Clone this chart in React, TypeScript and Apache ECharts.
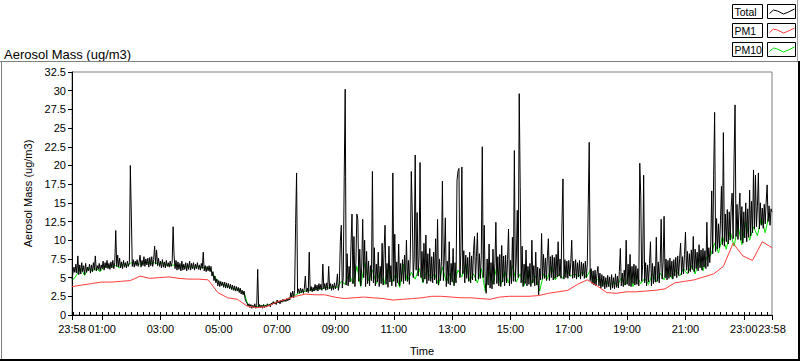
import React, { useEffect, useRef } from "react";
import * as echarts from "echarts";

const FONT = "'Liberation Sans', Arial, sans-serif";

// X axis: minutes elapsed since 23:58 (0 .. 1440)
const TIME_LABELS = ["23:58", "01:00", "03:00", "05:00", "07:00", "09:00", "11:00", "13:00", "15:00", "17:00", "19:00", "21:00", "23:00", "23:58"];
const LABEL_MINUTES = [0, 62, 182, 302, 422, 542, 662, 782, 902, 1022, 1142, 1262, 1382, 1440];
const X_MAX = 1440;
const MINOR_TICK_START = 2;
const MINOR_TICK_STEP = 12;

const Y_MAX = 32.5;
const Y_STEP = 2.5;

// Total: one reading every 2 minutes
const TOTAL_STEP_MIN = 2;
const TOTAL = [
  4.8, 5.6, 6.4, 5.7, 6.8, 5.6, 7.9, 5.4, 6.7, 5.5, 7.0, 5.8, 6.6, 5.4, 6.9, 5.7, 6.4, 5.9, 6.8, 5.6,
  6.7, 5.8, 7.0, 6.0, 7.9, 5.9, 6.6, 6.1, 6.9, 5.9, 6.7, 6.2, 7.2, 6.0, 7.0, 6.3, 7.3, 6.2, 6.9, 6.1,
  7.1, 6.3, 7.3, 6.2, 7.0, 11.3, 6.5, 8.0, 6.4, 7.6, 6.3, 7.1, 6.2, 7.3, 6.4, 7.0, 6.3, 7.2, 6.5, 7.0,
  20.0, 13.5, 6.5, 7.4, 6.4, 7.2, 6.6, 7.4, 6.5, 7.1, 8.0, 6.4, 7.3, 6.6, 7.8, 6.5, 7.5, 6.7, 7.6, 6.4,
  7.7, 6.6, 7.8, 6.5, 7.4, 9.2, 6.8, 8.7, 6.6, 7.6, 6.5, 7.2, 6.3, 7.4, 6.4, 7.1, 6.3, 7.3, 6.5, 7.0,
  6.4, 7.2, 6.5, 7.0, 11.8, 7.9, 6.2, 7.3, 6.0, 7.1, 6.1, 6.9, 5.9, 7.2, 6.0, 6.8, 6.1, 7.0, 5.9, 6.9,
  6.1, 7.2, 6.0, 6.9, 6.2, 7.0, 6.0, 6.8, 6.2, 7.0, 6.1, 6.7, 6.0, 6.9, 6.2, 8.4, 5.9, 6.6, 5.8, 6.5,
  5.9, 6.6, 5.8, 6.5, 5.2, 5.8, 4.6, 5.2, 4.3, 4.8, 3.9, 4.6, 3.8, 4.5, 3.9, 4.4, 3.7, 4.4, 3.6, 4.3,
  3.6, 4.2, 3.5, 4.1, 3.4, 4.0, 3.3, 3.9, 3.2, 3.8, 3.2, 3.7, 3.0, 3.6, 2.8, 3.3, 2.7, 3.2, 2.2, 1.8,
  1.6, 1.2, 1.5, 1.0, 1.4, 0.9, 1.3, 1.0, 1.5, 0.9, 1.3, 6.1, 1.0, 1.4, 1.0, 1.3, 0.9, 1.4, 1.0, 1.3,
  1.1, 1.5, 1.2, 1.4, 1.1, 1.6, 1.4, 1.8, 1.5, 1.7, 1.4, 2.0, 1.6, 1.9, 1.5, 2.0, 1.7, 2.1, 1.8, 2.0,
  1.8, 2.2, 1.9, 2.3, 2.0, 3.0, 2.4, 3.2, 2.3, 3.3, 12.2, 19.0, 2.9, 3.5, 2.9, 3.6, 3.0, 3.5, 2.9, 3.6,
  5.2, 3.1, 3.6, 3.0, 8.4, 3.2, 3.8, 3.1, 3.7, 3.2, 4.1, 3.3, 4.0, 3.2, 4.2, 3.4, 4.1, 3.3, 6.8, 3.5,
  4.2, 3.3, 4.3, 3.4, 6.5, 3.5, 4.2, 3.3, 4.1, 3.4, 4.3, 3.5, 4.0, 5.5, 3.3, 4.2, 9.8, 12.0, 3.6, 5.0,
  18.5, 30.2, 4.0, 8.2, 3.9, 6.5, 4.4, 9.4, 13.5, 4.2, 10.5, 3.8, 7.0, 13.5, 12.8, 4.5, 8.8, 3.9, 6.4, 12.8,
  5.0, 10.0, 3.8, 8.5, 4.2, 7.2, 3.9, 6.6, 4.6, 19.2, 4.3, 9.0, 3.9, 6.8, 4.4, 8.4, 3.8, 6.5, 4.2, 9.6,
  4.0, 8.8, 12.0, 4.1, 6.9, 3.7, 9.2, 4.4, 6.6, 3.9, 19.0, 4.5, 10.8, 3.8, 7.1, 4.3, 9.5, 3.9, 6.9, 4.5,
  7.4, 4.2, 8.0, 4.6, 10.0, 4.5, 7.3, 4.1, 8.2, 19.2, 13.5, 5.0, 7.6, 21.4, 6.0, 13.7, 5.2, 7.9, 20.4, 5.0,
  8.5, 4.4, 9.6, 4.8, 10.7, 4.2, 8.2, 4.6, 8.9, 4.5, 7.8, 4.3, 8.4, 4.7, 10.2, 4.2, 12.8, 4.0, 7.5, 4.6,
  7.2, 17.9, 4.6, 7.9, 13.0, 3.8, 7.2, 4.2, 9.8, 4.0, 6.9, 4.4, 8.9, 3.9, 7.0, 4.3, 18.0, 19.2, 19.6, 5.0,
  8.3, 19.8, 5.5, 8.6, 4.3, 8.0, 4.9, 7.7, 4.5, 8.4, 4.3, 7.9, 4.7, 8.6, 10.5, 4.6, 7.8, 11.0, 4.8, 8.2,
  4.9, 8.0, 22.5, 5.0, 12.0, 4.3, 2.9, 7.5, 4.0, 9.5, 3.6, 7.0, 3.5, 8.8, 4.1, 6.9, 12.4, 4.2, 7.8, 3.9,
  8.1, 3.8, 9.3, 4.4, 7.9, 3.9, 8.0, 4.3, 7.4, 11.5, 3.9, 7.3, 4.2, 10.4, 4.5, 22.0, 4.5, 7.5, 14.0, 5.0,
  29.6, 17.2, 4.3, 9.2, 3.8, 6.8, 4.2, 8.7, 3.9, 6.5, 4.1, 6.9, 3.8, 10.0, 4.3, 6.6, 3.9, 8.4, 4.0, 6.4,
  2.7, 6.2, 4.7, 10.9, 4.8, 8.1, 4.9, 7.6, 4.6, 7.9, 10.2, 4.6, 7.8, 5.0, 8.0, 4.7, 7.7, 4.9, 8.1, 5.1,
  9.8, 5.2, 7.5, 4.9, 12.6, 18.2, 4.8, 7.4, 5.0, 7.2, 4.9, 7.3, 5.2, 7.0, 10.0, 4.9, 7.2, 5.0, 7.4, 4.8,
  7.0, 5.1, 7.3, 4.8, 7.1, 5.2, 6.9, 4.9, 7.2, 5.0, 6.8, 14.8, 23.1, 4.6, 6.2, 4.2, 5.9, 4.0, 6.0, 3.9,
  5.6, 6.5, 3.9, 5.6, 3.6, 5.4, 3.8, 5.2, 3.5, 5.0, 3.7, 5.3, 3.8, 5.1, 3.4, 5.4, 3.6, 5.0, 3.5, 5.5,
  3.7, 5.2, 3.6, 5.8, 8.9, 3.9, 5.6, 3.8, 6.0, 4.0, 10.0, 4.1, 6.8, 3.9, 8.1, 3.8, 6.5, 4.2, 6.8, 4.0,
  6.6, 4.1, 6.2, 3.9, 20.3, 15.9, 4.5, 6.8, 18.7, 4.3, 7.0, 3.9, 6.7, 4.4, 6.9, 9.8, 3.9, 6.9, 4.2, 6.5,
  4.4, 10.4, 4.5, 7.1, 4.3, 6.9, 12.8, 4.8, 7.0, 13.2, 5.0, 7.5, 4.7, 7.3, 4.9, 7.6, 5.1, 7.2, 4.8, 7.4,
  5.2, 7.7, 5.0, 7.9, 5.3, 7.6, 9.6, 5.4, 7.8, 5.5, 8.1, 11.1, 6.0, 8.5, 5.6, 8.2, 5.8, 8.7, 6.1, 10.5,
  5.8, 8.8, 6.2, 8.4, 5.9, 9.4, 6.3, 8.7, 6.0, 8.9, 6.4, 8.6, 6.2, 12.4, 6.5, 9.0, 7.0, 9.5, 16.6, 8.2,
  18.7, 27.1, 8.5, 12.9, 8.8, 12.2, 9.0, 12.6, 17.2, 9.4, 24.4, 9.2, 13.5, 9.8, 14.1, 9.5, 13.8, 10.0, 14.4, 16.3,
  10.2, 21.0, 28.1, 10.5, 14.8, 10.1, 14.0, 16.3, 10.0, 14.5, 9.6, 13.8, 10.3, 15.0, 9.8, 14.2, 10.4, 16.7, 10.6, 15.2,
  11.0, 19.4, 11.5, 18.7, 11.8, 14.5, 19.0, 11.5, 15.0, 12.0, 14.3, 11.6, 14.8, 12.2, 15.1, 17.4, 12.5, 14.6, 12.0, 14.2,
  13.8,
];

// PM10: one reading every 8 minutes, starting 2 minutes in
const PM10_STEP_MIN = 8;
const PM10_OFFSET_MIN = 2;
const PM10 = [
  4.7, 5.4, 6.2, 5.3, 6.3, 5.9, 6.2, 5.8, 6.5, 6.4, 6.5, 6.6, 6.3, 6.9, 6.6, 7.0, 6.9,
  6.8, 6.9, 7.0, 6.9, 7.0, 6.8, 7.0, 6.7, 6.6, 6.7, 6.5, 6.6, 6.4, 6.5, 6.3, 6.5, 6.4, 6.3, 6.2,
  5.5, 4.7, 4.2, 4.0, 3.8, 3.6, 3.4, 3.3, 3.0, 1.3,
  1.2, 1.1, 1.2, 1.3, 1.3, 1.5, 1.7, 1.8, 1.9, 2.0, 2.4, 2.6, 2.9, 3.1,
  3.2, 3.4, 3.3, 3.6, 3.5, 3.7, 3.6, 3.8, 3.7, 4.5,
  4.1, 5.5, 4.2, 6.5, 3.8, 7.0, 4.6, 6.0, 4.2, 5.8,
  4.1, 6.2, 4.4, 5.5, 3.7, 6.8, 4.5, 5.7, 4.8, 6.3,
  4.3, 6.0, 4.9, 5.5, 4.0, 6.4, 4.4, 5.6, 4.1, 6.0,
  5.1, 6.8, 4.6, 5.5, 4.3, 6.2, 3.2, 5.8, 4.2, 6.5,
  4.0, 5.8, 4.3, 6.6, 4.4, 5.5, 3.9, 6.0, 4.2, 5.2,
  3.2, 5.5, 4.8, 6.5, 4.7, 5.4, 4.9, 5.9, 5.2, 5.5,
  5.1, 5.8, 5.0, 6.0, 4.2, 4.8, 3.9, 4.6, 3.8, 4.5,
  3.9, 5.0, 4.0, 5.6, 3.8, 5.2, 4.2, 4.9, 4.1, 5.5,
  4.4, 5.6, 4.7, 5.8, 4.9, 6.0, 5.2, 6.2, 5.5, 6.6,
  5.5, 7.4, 5.9, 7.8, 8.0, 9.6, 8.3, 10.5, 8.8, 11.2,
  9.2, 12.0, 9.4, 12.5, 10.0, 11.8, 10.6, 13.0, 11.0, 13.4,
];

// PM1: one reading every 20 minutes
const PM1_STEP_MIN = 20;
const PM1 = [
  3.8, 4.0, 4.2, 4.4, 4.4, 4.5, 4.6, 5.2, 4.9, 5.0,
  5.1, 4.9, 4.8, 4.8, 4.7, 3.0, 2.3, 2.1, 1.2, 1.0,
  1.1, 1.7, 2.1, 2.5, 2.8, 2.7, 2.7, 2.4, 2.2, 2.3,
  2.4, 2.3, 2.2, 2.0, 2.1, 2.2, 2.3, 2.5, 2.5, 2.4,
  2.3, 2.3, 2.2, 2.1, 2.4, 2.5, 2.5, 2.5, 2.6, 2.9,
  3.1, 3.3, 4.1, 4.7, 3.9, 3.0, 2.9, 3.1, 3.1, 3.2,
  3.3, 3.5, 4.3, 4.5, 4.7, 5.1, 5.5, 6.5, 9.6, 7.9,
  7.3, 9.8, 9.0,
];

const LEGEND_NAMES = ["Total", "PM1", "PM10"];
const COLORS: Record<string, string> = { Total: "#000000", PM1: "#ff3b3b", PM10: "#00e000" };

export default function App() {
  const ref = useRef<HTMLDivElement>(null);

  useEffect(() => {
    document.body.style.margin = "0";
    const chart = echarts.init(ref.current!, undefined, { renderer: "svg", width: 800, height: 361 });

    const minor: number[] = [];
    for (let m = MINOR_TICK_START; m < X_MAX; m += MINOR_TICK_STEP) minor.push(m);

    const fmt = (v: number) => {
      const idx = LABEL_MINUTES.indexOf(Math.round(v));
      return idx >= 0 ? TIME_LABELS[idx] : "";
    };

    const legendGraphics: any[] = [];
    const rowTops = [4.5, 23.5, 42.5];
    const wave = [[2, 9], [6, 5.5], [10, 6.5], [16, 9.5], [21, 7.5], [27, 4.5]];
    LEGEND_NAMES.forEach((name, r) => {
      const top = rowTops[r];
      legendGraphics.push({
        type: "rect",
        shape: { x: 732.5, y: top, width: 30, height: 14 },
        style: { fill: "#fff", stroke: "#000", lineWidth: 1 },
      });
      legendGraphics.push({
        type: "text",
        x: 734.5,
        y: top + 7.5,
        style: { text: name, fill: "#000", font: `10.5px ${FONT}`, verticalAlign: "middle", textVerticalAlign: "middle" },
      });
      legendGraphics.push({
        type: "rect",
        shape: { x: 767.5, y: top, width: 28, height: 14 },
        style: { fill: "#fff", stroke: "#000", lineWidth: 1 },
      });
      legendGraphics.push({
        type: "polyline",
        shape: { points: wave.map(([dx, dy]) => [767.5 + dx, top + dy]) },
        style: { stroke: COLORS[name], lineWidth: 1, fill: "none" },
      });
    });

    const lineSeries = (name: string, data: number[][], z: number) => ({
      name,
      type: "line",
      xAxisIndex: 0,
      showSymbol: false,
      symbol: "none",
      silent: true,
      lineStyle: { color: COLORS[name], width: 1 },
      data,
      z,
    });

    const option: any = {
      animation: false,
      backgroundColor: "#ffffff",
      textStyle: { fontFamily: FONT },
      grid: { left: 72, right: 28, top: 72, bottom: 39, show: true, borderColor: "#808080", borderWidth: 1 },
      xAxis: [
        {
          type: "value",
          min: 0,
          max: X_MAX,
          name: "Time",
          nameLocation: "middle",
          nameGap: 30,
          nameTextStyle: { color: "#000", fontSize: 11, fontFamily: FONT },
          axisLine: { show: true, onZero: false, lineStyle: { color: "#000", width: 1 } },
          axisTick: { show: true, customValues: LABEL_MINUTES, length: 5, lineStyle: { color: "#000" } },
          axisLabel: {
            show: true,
            customValues: LABEL_MINUTES,
            formatter: fmt,
            color: "#000",
            fontSize: 11,
            fontFamily: FONT,
            margin: 8,
            hideOverlap: false,
          },
          splitLine: { show: false },
        },
        {
          type: "value",
          min: 0,
          max: X_MAX,
          axisLine: { show: false },
          axisTick: { show: true, customValues: minor, length: 3, lineStyle: { color: "#000" } },
          axisLabel: { show: false },
          splitLine: { show: false },
        },
      ],
      yAxis: {
        type: "value",
        min: 0,
        max: Y_MAX,
        interval: Y_STEP,
        name: "Aerosol Mass (ug/m3)",
        nameLocation: "middle",
        nameGap: 38,
        nameTextStyle: { color: "#000", fontSize: 11, fontFamily: FONT },
        axisLine: { show: true, lineStyle: { color: "#000", width: 1 } },
        axisTick: { show: true, length: 4, lineStyle: { color: "#000" } },
        axisLabel: { color: "#000", fontSize: 11, fontFamily: FONT, margin: 6 },
        splitLine: { show: false },
      },
      series: [
        lineSeries("PM10", PM10.map((v, j) => [PM10_OFFSET_MIN + j * PM10_STEP_MIN, v]), 2),
        lineSeries("Total", TOTAL.map((v, i) => [i * TOTAL_STEP_MIN, v]), 3),
        lineSeries("PM1", PM1.map((v, k) => [k * PM1_STEP_MIN, v]), 4),
      ],
      graphic: [
        {
          type: "text",
          x: 4,
          y: 54,
          style: { text: "Aerosol Mass (ug/m3)", fill: "#000", font: `13px ${FONT}`, verticalAlign: "middle", textVerticalAlign: "middle" },
        },
        { type: "line", shape: { x1: 0, y1: 61.5, x2: 799, y2: 61.5 }, style: { stroke: "#808080", lineWidth: 1 } },
        { type: "line", shape: { x1: 1.5, y1: 61.5, x2: 1.5, y2: 360 }, style: { stroke: "#808080", lineWidth: 1 } },
        { type: "line", shape: { x1: 799, y1: 61, x2: 799, y2: 361 }, style: { stroke: "#000", lineWidth: 2 } },
        { type: "line", shape: { x1: 0, y1: 360, x2: 800, y2: 360 }, style: { stroke: "#000", lineWidth: 2 } },
        { type: "line", shape: { x1: 797.5, y1: 0, x2: 797.5, y2: 61 }, style: { stroke: "#a0a0a0", lineWidth: 1 } },
        ...legendGraphics,
      ],
    };

    chart.setOption(option);
    return () => chart.dispose();
  }, []);

  return <div ref={ref} style={{ width: 800, height: 361, background: "#fff" }} />;
}
